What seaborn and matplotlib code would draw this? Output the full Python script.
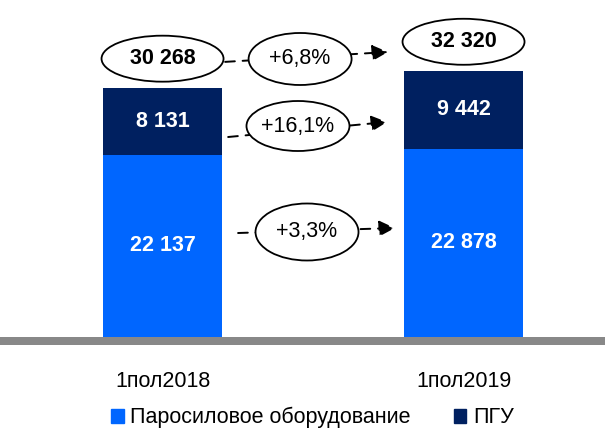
import pandas as pd
import seaborn as sns
import matplotlib.pyplot as plt
from matplotlib.patches import Ellipse, Patch

# --------------------------
# Data
# --------------------------
periods = ["1пол2018", "1пол2019"]
steam = [22137, 22878]      # Паросиловое оборудование
ccgt = [8131, 9442]         # ПГУ
totals = [30268, 32320]
growth_labels = ["+6,8%", "+16,1%", "+3,3%"]
series_names = ["Паросиловое оборудование", "ПГУ"]

light_blue = "#0066FF"
navy = "#002060"
gray = "#888888"

sns.set_theme(style="white")
plt.rcParams["font.family"] = ["Liberation Sans", "DejaVu Sans"]
plt.rcParams["text.color"] = "black"

df = pd.DataFrame({"period": periods, "steam": steam, "ccgt": ccgt, "total": totals})

fig = plt.figure(figsize=(6.05, 4.29), dpi=100)
ax = fig.add_axes([0, 84 / 429, 1, 345 / 429])

u = 121.4  # data units per pixel (vertical)
bw = 0.395
fs = 15.5

# stacked: totals in navy underneath, steam part on top of it
sns.barplot(data=df, x="period", y="total", color=navy, saturation=1,
            width=bw, ax=ax, zorder=2, linewidth=0)
sns.barplot(data=df, x="period", y="steam", color=light_blue, saturation=1,
            width=bw, ax=ax, zorder=3, linewidth=0)

ax.set_xlim(-0.54, 1.47)
ax.set_ylim(-8 * u, 337 * u)
ax.axhspan(-8 * u, 0, color=gray, zorder=1, lw=0)

for s in ax.spines.values():
    s.set_visible(False)
ax.set_yticks([])
ax.set_xlabel("")
ax.set_ylabel("")
ax.tick_params(axis="x", length=0, pad=19, labelsize=fs, colors="black")

# segment labels
for i in range(len(periods)):
    ax.text(i, steam[i] / 2, f"{steam[i]:,}".replace(",", " "), ha="center",
            va="center", color="white", fontsize=fs, fontweight="bold", zorder=5)
    ax.text(i, steam[i] + ccgt[i] / 2, f"{ccgt[i]:,}".replace(",", " "),
            ha="center", va="center", color="white", fontsize=fs,
            fontweight="bold", zorder=5)
    # totals in ellipses
    yc = totals[i] + 29 * u
    ax.add_patch(Ellipse((i, yc), 122 / 301, 46 * u, facecolor="white",
                         edgecolor="black", lw=1.3, zorder=6))
    ax.text(i, yc, f"{totals[i]:,}".replace(",", " "), ha="center",
            va="center", color="black", fontsize=fs, fontweight="bold", zorder=7)

# growth arrows (start, end) and ellipse centers, in data coordinates
arrows = [((0.208, 33400), (0.749, 34600)),
          ((0.218, 24280), (0.746, 26100)),
          ((0.251, 12625), (0.772, 13233))]
centers = [(0.457, 33750), (0.450, 25615), (0.480, 12747)]
heights = [52, 50, 57]

for (start, end), (cx, cy), h, lab in zip(arrows, centers, heights, growth_labels):
    ax.annotate("", xy=end, xytext=start, zorder=4,
                arrowprops=dict(arrowstyle="-|>", color="black", lw=1.4,
                                linestyle=(0, (5, 4)), mutation_scale=24,
                                shrinkA=0, shrinkB=0))
    ax.add_patch(Ellipse((cx, cy), 103 / 301, h * u, facecolor="white",
                         edgecolor="black", lw=1.3, zorder=6))
    ax.text(cx, cy, lab, ha="center", va="center", fontsize=fs, zorder=7)

handles = [Patch(color=light_blue), Patch(color=navy)]
fig.legend(handles, series_names, loc="center", bbox_to_anchor=(0.516, 0.026),
           ncol=2, frameon=False, fontsize=fs, handlelength=0.6,
           handleheight=0.6, handletextpad=0.3, columnspacing=2.0,
           borderaxespad=0, borderpad=0, labelcolor="black")

plt.savefig("out.png", dpi=100)
